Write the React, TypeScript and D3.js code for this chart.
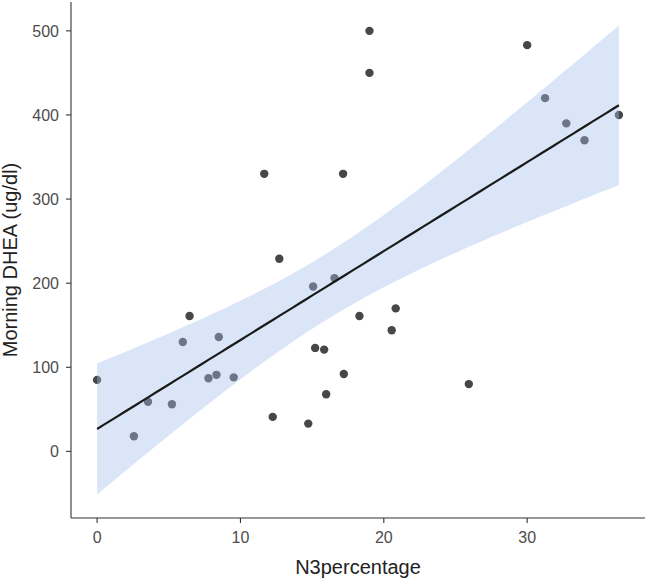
import React from "react";
import * as d3 from "d3";

const n3Percentage = [0, 2.57, 3.55, 5.22, 5.98, 6.45, 7.77, 8.33, 8.49, 9.53, 11.66, 12.25, 12.71, 14.73, 15.07, 15.21, 15.84, 15.98, 16.56, 17.16, 17.21, 18.3, 19.0, 19.0, 20.55, 20.83, 25.93, 30.0, 31.25, 32.73, 34.0, 36.4];
const morningDHEA = [85, 18, 59, 56, 130, 161, 87, 91, 136, 88, 330, 41, 229, 33, 196, 123, 121, 68, 206, 330, 92, 161, 500, 450, 144, 170, 80, 483, 420, 390, 370, 400];
const xTicks = [0, 10, 20, 30];
const yTicks = [0, 100, 200, 300, 400, 500];

const W = 650, H = 580;
const left = 71, right = 645, top = 2, bottom = 518;

export default function App() {
  const n = n3Percentage.length;
  const mx = d3.mean(n3Percentage)!;
  const my = d3.mean(morningDHEA)!;
  let sxx = 0, sxy = 0;
  for (let i = 0; i < n; i++) {
    sxx += (n3Percentage[i] - mx) ** 2;
    sxy += (n3Percentage[i] - mx) * (morningDHEA[i] - my);
  }
  const slope = sxy / sxx;
  const intercept = my - slope * mx;
  let sse = 0;
  for (let i = 0; i < n; i++) {
    const r = morningDHEA[i] - (intercept + slope * n3Percentage[i]);
    sse += r * r;
  }
  const s = Math.sqrt(sse / (n - 2));
  const tcrit = 2.042;
  const [xmin, xmax] = d3.extent(n3Percentage) as [number, number];
  const grid = d3.range(0, 81).map((i) => xmin + ((xmax - xmin) * i) / 80);
  const band = grid.map((x) => {
    const fit = intercept + slope * x;
    const se = s * Math.sqrt(1 / n + (x - mx) ** 2 / sxx);
    return { x, fit, lo: fit - tcrit * se, hi: fit + tcrit * se };
  });

  const xr = xmax - xmin;
  const x = d3.scaleLinear().domain([xmin - 0.05 * xr, xmax + 0.05 * xr]).range([left, right]);
  const ylo = Math.min(d3.min(morningDHEA)!, d3.min(band, (d) => d.lo)!);
  const yhi = Math.max(d3.max(morningDHEA)!, d3.max(band, (d) => d.hi)!);
  const yr = yhi - ylo;
  const y = d3.scaleLinear().domain([ylo - 0.05 * yr, yhi + 0.05 * yr]).range([bottom, top]);

  const area = d3.area<any>().x((d) => x(d.x)).y0((d) => y(d.lo)).y1((d) => y(d.hi));
  const line = d3.line<any>().x((d) => x(d.x)).y((d) => y(d.fit));

  const font = "'Liberation Sans', Arial, sans-serif";
  return (
    <svg width={W} height={H} style={{ position: "absolute", left: 0, top: 0, background: "#fff" }} fontFamily={font}>
      {n3Percentage.map((v, i) => (
        <circle key={i} cx={x(v)} cy={y(morningDHEA[i])} r={4.2} fill="#474747" />
      ))}
      <path d={area(band)!} fill="#a3bdeb" fillOpacity={0.4} />
      <path d={line(band)!} fill="none" stroke="#1a1a1a" strokeWidth={2.2} />
      <line x1={left} x2={right} y1={bottom} y2={bottom} stroke="#333" strokeWidth={1.1} />
      <line x1={left} x2={left} y1={top} y2={bottom} stroke="#333" strokeWidth={1.1} />
      {xTicks.map((t) => (
        <g key={t}>
          <line x1={x(t)} x2={x(t)} y1={bottom} y2={bottom + 5} stroke="#333" strokeWidth={1.1} />
          <text x={x(t)} y={bottom + 25} textAnchor="middle" fontSize={16} fill="#4d4d4d">{t}</text>
        </g>
      ))}
      {yTicks.map((t) => (
        <g key={t}>
          <line x1={left - 5} x2={left} y1={y(t)} y2={y(t)} stroke="#333" strokeWidth={1.1} />
          <text x={left - 12} y={y(t)} dy="0.36em" textAnchor="end" fontSize={16} fill="#4d4d4d">{t}</text>
        </g>
      ))}
      <text x={(left + right) / 2} y={574} textAnchor="middle" fontSize={20} fill="#222">N3percentage</text>
      <text transform={`translate(17, ${(top + bottom) / 2}) rotate(-90)`} textAnchor="middle" fontSize={20} fill="#222">Morning DHEA (ug/dl)</text>
    </svg>
  );
}
